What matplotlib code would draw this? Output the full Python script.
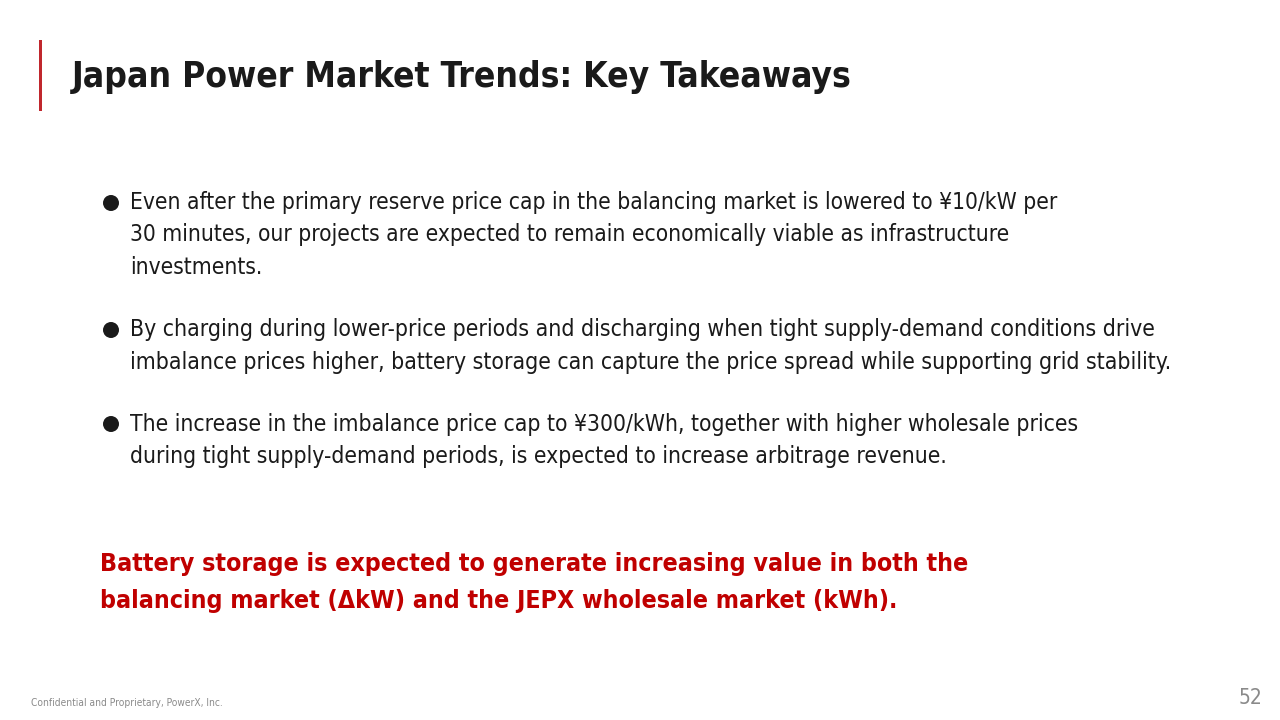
import matplotlib
matplotlib.use("Agg")
import matplotlib.pyplot as plt
from matplotlib import font_manager
from matplotlib.patches import Ellipse, Rectangle

title = "Japan Power Market Trends: Key Takeaways"
bullets = [
    ["Even after the primary reserve price cap in the balancing market is lowered to ¥10/kW per",
     "30 minutes, our projects are expected to remain economically viable as infrastructure",
     "investments."],
    ["By charging during lower-price periods and discharging when tight supply-demand conditions drive",
     "imbalance prices higher, battery storage can capture the price spread while supporting grid stability."],
    ["The increase in the imbalance price cap to ¥300/kWh, together with higher wholesale prices",
     "during tight supply-demand periods, is expected to increase arbitrage revenue."],
]
conclusion = ["Battery storage is expected to generate increasing value in both the",
              "balancing market (ΔkW) and the JEPX wholesale market (kWh)."]
footer = "Confidential and Proprietary, PowerX, Inc."
page = "52"

RED = "#c0272d"
DARK = "#1a1a1a"
GRAY = "#8a8a8a"

names = {f.name for f in font_manager.fontManager.ttflist}
if "Liberation Sans Narrow" in names:
    FONT = dict(family=["Liberation Sans Narrow", "DejaVu Sans"])
else:
    FONT = dict(family=["DejaVu Sans"], stretch="condensed")

W, H = 1280, 720
fig = plt.figure(figsize=(W / 100, H / 100), dpi=100)
fig.patch.set_facecolor("white")
renderer = fig.canvas.get_renderer()


def put(px, py, s, size, target_w=None, **kw):
    t = fig.text(px / W, 1 - py / H, s, fontsize=size, va="center", ha="left",
                 **FONT, **kw)
    if target_w:
        w = t.get_window_extent(renderer).width
        t.set_fontsize(size * target_w / w)
    return t


# red accent bar
fig.add_artist(Rectangle((39 / W, 1 - 111 / H), 3 / W, 71 / H,
                         transform=fig.transFigure, color=RED, lw=0))

put(72, 77, title, 36, target_w=852 - 72, color=DARK, weight="bold")

# bullets
rows = [[203, 235, 267], [330, 362], [424, 456]]
widths = [[1055 - 130, None, None], [1151 - 130, None], [1076 - 130, None]]
for lines, ys, ws in zip(bullets, rows, widths):
    fig.add_artist(Ellipse((111 / W, 1 - ys[0] / H), 16 / W, 16 / H,
                           transform=fig.transFigure, color=DARK, lw=0))
    size = None
    for s, y, tw in zip(lines, ys, ws):
        t = put(130, y, s, size or 19, target_w=tw if size is None else None,
                color=DARK)
        size = t.get_fontsize()

t = put(100, 564, conclusion[0], 22, target_w=965 - 100, color="#c00000",
        weight="bold")
put(100, 601, conclusion[1], t.get_fontsize(), color="#c00000", weight="bold")

put(31, 703, footer, 7.5, target_w=220 - 31, color=GRAY)
fig.text(1262 / W, 1 - 698 / H, page, fontsize=15, va="center", ha="right",
         color=GRAY, **FONT)

fig.savefig("out.png", dpi=100, facecolor="white")
